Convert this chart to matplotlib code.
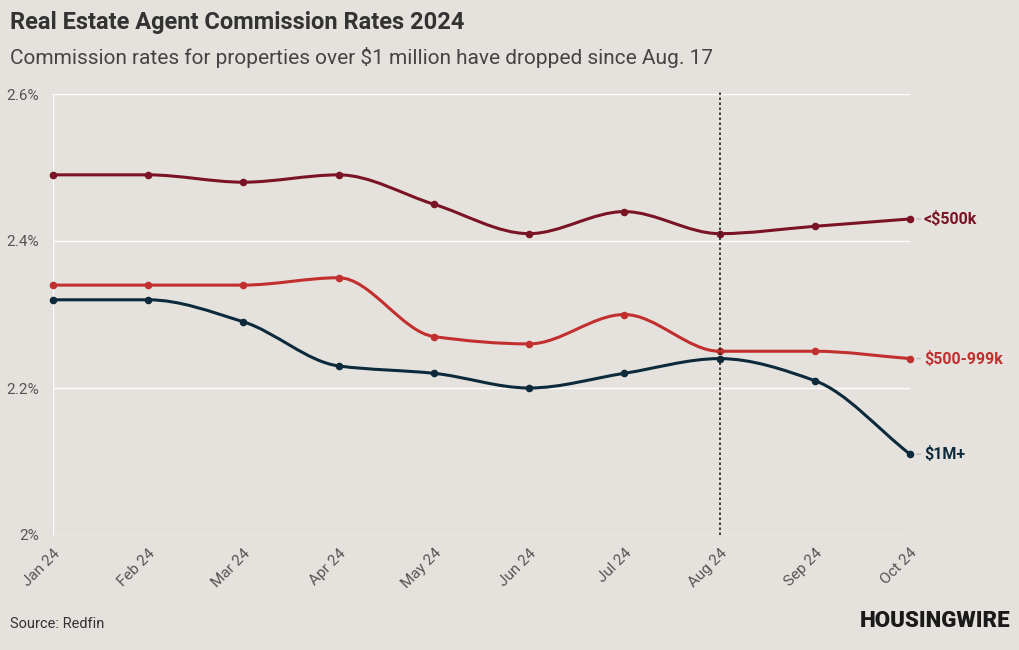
import matplotlib.pyplot as plt
from matplotlib.path import Path
from matplotlib.patches import PathPatch
import numpy as np

# data
months = ['Jan 24', 'Feb 24', 'Mar 24', 'Apr 24', 'May 24', 'Jun 24',
          'Jul 24', 'Aug 24', 'Sep 24', 'Oct 24']
under_500k = [2.49, 2.49, 2.48, 2.49, 2.45, 2.41, 2.44, 2.41, 2.42, 2.43]
mid_500_999k = [2.34, 2.34, 2.34, 2.35, 2.27, 2.26, 2.30, 2.25, 2.25, 2.24]
over_1m = [2.32, 2.32, 2.29, 2.23, 2.22, 2.20, 2.22, 2.24, 2.21, 2.11]
series_names = ['<$500k', '$500-999k', '$1M+']
yticks = [2.0, 2.2, 2.4, 2.6]
ytick_labels = ['2%', '2.2%', '2.4%', '2.6%']

bg = '#e5e2dd'
colors = ['#7a1424', '#c1302f', '#0c2a3c']
plt.rcParams['font.family'] = ['Roboto', 'DejaVu Sans']


def monotone_path(x, y):
    # cubic bezier segments with monotone (Fritsch-Carlson) tangents
    x = np.asarray(x, float)
    y = np.asarray(y, float)
    h = np.diff(x)
    d = np.diff(y) / h
    m = np.zeros_like(y)
    m[0], m[-1] = d[0], d[-1]
    for i in range(1, len(y) - 1):
        if d[i - 1] * d[i] > 0:
            m[i] = 3 * (h[i - 1] + h[i]) / ((2 * h[i] + h[i - 1]) / d[i - 1]
                                            + (h[i] + 2 * h[i - 1]) / d[i])
    verts = [(x[0], y[0])]
    codes = [Path.MOVETO]
    for i in range(len(x) - 1):
        dx = h[i] / 3
        verts += [(x[i] + dx, y[i] + m[i] * dx),
                  (x[i + 1] - dx, y[i + 1] - m[i + 1] * dx),
                  (x[i + 1], y[i + 1])]
        codes += [Path.CURVE4] * 3
    return Path(verts, codes)


fig = plt.figure(figsize=(10.2, 6.5), dpi=100, facecolor=bg)
ax = fig.add_axes([53 / 1020, 115 / 650, 857 / 1020, 441 / 650])
ax.set_facecolor(bg)

x = np.arange(len(months))
for vals, col, name in zip([under_500k, mid_500_999k, over_1m], colors, series_names):
    ax.add_patch(PathPatch(monotone_path(x, vals), facecolor='none', edgecolor=col,
                           lw=2.2, zorder=3, capstyle='round', clip_on=False))
    ax.scatter(x, vals, s=30, color=col, zorder=4, linewidths=0, clip_on=False)
    ax.annotate('', (x[-1], vals[-1]), xytext=(x[-1] + 0.11, vals[-1]),
                arrowprops=dict(arrowstyle='-', color='#bdbab5', lw=1, shrinkA=0, shrinkB=5))
    ax.annotate(name, (x[-1], vals[-1]), xytext=(10, 0), textcoords='offset points',
                ha='left', va='center', color=col, fontsize=11.5, fontweight='bold')

ax.axvline(7, ymin=0, ymax=1.01, color='#222222', lw=1.2, linestyle=(0, (1.5, 1.5)),
           zorder=5, clip_on=False)

ax.set_xlim(0, len(months) - 1)
ax.set_ylim(2.0, 2.6)
ax.set_yticks(yticks)
ax.set_yticklabels(ytick_labels)
ax.set_xticks(x)
ax.set_xticklabels(months, rotation=45, ha='right', rotation_mode='anchor')
ax.tick_params(axis='both', length=0, colors='#555555', labelsize=11)
ax.tick_params(axis='x', pad=8)
ax.tick_params(axis='y', pad=10)
ax.grid(axis='y', color='white', lw=1)
for s in ax.spines.values():
    s.set_visible(False)
ax.axvline(0, color='white', lw=1, zorder=1)

fig.text(10 / 1020, 1 - 23 / 650, 'Real Estate Agent Commission Rates 2024', fontsize=17,
         fontweight='bold', color='#333333', va='center', ha='left')
fig.text(10 / 1020, 1 - 57 / 650, 'Commission rates for properties over $1 million have dropped since Aug. 17',
         fontsize=15, color='#444444', va='center', ha='left')
fig.text(10 / 1020, 1 - 624 / 650, 'Source: Redfin', fontsize=10.5, color='#333333',
         va='center', ha='left')
fig.text(1010 / 1020, 1 - 621 / 650, 'HOUSINGWIRE', fontsize=16, fontweight='black',
         color='#1a1a1a', va='center', ha='right')

fig.savefig('out.png', dpi=100, facecolor=bg)
